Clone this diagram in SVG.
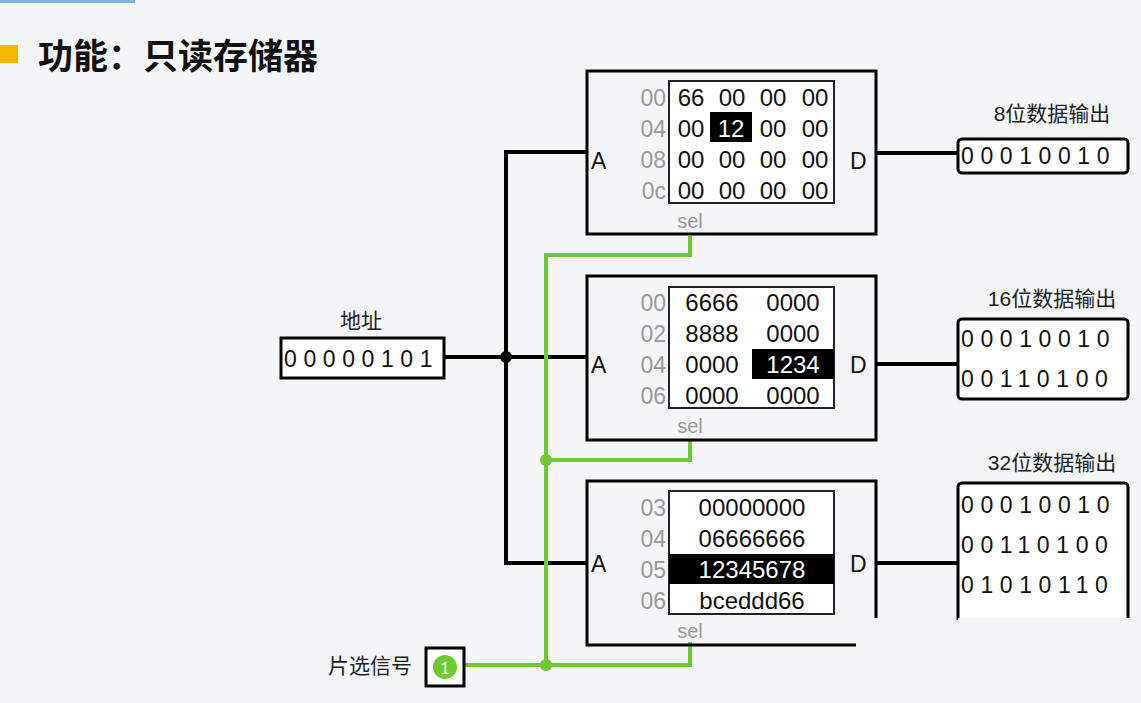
<svg xmlns="http://www.w3.org/2000/svg" width="1141" height="703" viewBox="0 0 1141 703">
<style>
text{font-family:"Liberation Sans","Noto Sans CJK SC",sans-serif}
.box{fill:none;stroke:#000;stroke-width:3}
.tbl{fill:#fff;stroke:#222;stroke-width:2}
.v{font-size:24px;fill:#111;text-anchor:middle}
.a{font-size:23px;fill:#999;text-anchor:end}
.p{font-size:23px;fill:#111}
.s{font-size:20px;fill:#999;text-anchor:middle}
.w{stroke:#000;stroke-width:4;fill:none}
.g{stroke:#6ccb2e;stroke-width:4;fill:none}
.lbl{font-size:21px;fill:#222;text-anchor:middle}
.bits{font-size:23px;fill:#111;letter-spacing:6.6px}
.hl{fill:#000}
</style>
<rect width="1141" height="703" fill="#f4f5f6"/>
<rect x="0" y="0" width="135" height="3" fill="#7fb2e5"/>
<rect x="0" y="45" width="18" height="18" fill="#f5b800"/>
<text x="38" y="69" font-size="35" font-weight="bold" fill="#111">功能：只读存储器</text>

<g id="connectors">
<polyline class="w" points="444,357 587,357"/>
<polyline class="w" points="587,152 506,152 506,563 587,563"/>
<circle cx="506" cy="357" r="6"/>
<line class="w" x1="876" y1="153" x2="958" y2="153"/>
<line class="w" x1="876" y1="364" x2="958" y2="364"/>
<line class="w" x1="876" y1="563" x2="958" y2="563"/>
<polyline class="g" points="464,665 690,665 690,642"/>
<polyline class="g" points="690,236 690,255 546,255 546,665"/>
<polyline class="g" points="546,460 690,460 690,440"/>
<circle cx="546" cy="460" r="6" fill="#6ccb2e"/>
<circle cx="546" cy="665" r="6" fill="#6ccb2e"/>
</g>

<g id="rom8">
<rect class="box" x="587" y="71" width="289" height="163"/>
<rect class="tbl" x="669" y="81" width="165" height="122"/>
<rect class="hl" x="710" y="112" width="42" height="30"/>
<text class="a" x="666" y="106">00</text><text class="a" x="666" y="137">04</text><text class="a" x="666" y="168">08</text><text class="a" x="666" y="199">0c</text>
<text class="v" x="691" y="106">66</text><text class="v" x="732" y="106">00</text><text class="v" x="773" y="106">00</text><text class="v" x="815" y="106">00</text>
<text class="v" x="691" y="137">00</text><text class="v" x="731" y="137" style="fill:#fff">12</text><text class="v" x="773" y="137">00</text><text class="v" x="815" y="137">00</text>
<text class="v" x="691" y="168">00</text><text class="v" x="732" y="168">00</text><text class="v" x="773" y="168">00</text><text class="v" x="815" y="168">00</text>
<text class="v" x="691" y="199">00</text><text class="v" x="732" y="199">00</text><text class="v" x="773" y="199">00</text><text class="v" x="815" y="199">00</text>
<text class="p" x="591" y="169">A</text><text class="p" x="850" y="169">D</text>
<text class="s" x="690" y="228">sel</text>
</g>

<g id="rom16">
<rect class="box" x="587" y="276" width="289" height="164"/>
<rect class="tbl" x="669" y="287" width="165" height="121"/>
<rect class="hl" x="752" y="349" width="82" height="30"/>
<text class="a" x="666" y="311">00</text><text class="a" x="666" y="342">02</text><text class="a" x="666" y="373">04</text><text class="a" x="666" y="404">06</text>
<text class="v" x="712" y="311">6666</text><text class="v" x="793" y="311">0000</text>
<text class="v" x="712" y="342">8888</text><text class="v" x="793" y="342">0000</text>
<text class="v" x="712" y="373">0000</text><text class="v" x="793" y="373" style="fill:#fff">1234</text>
<text class="v" x="712" y="404">0000</text><text class="v" x="793" y="404">0000</text>
<text class="p" x="591" y="373">A</text><text class="p" x="850" y="373">D</text>
<text class="s" x="690" y="433">sel</text>
</g>

<g id="rom32">
<polyline class="box" points="856,645 587,645 587,481 876,481 876,618"/>
<rect class="tbl" x="669" y="491" width="165" height="123"/>
<rect class="hl" x="669" y="554" width="165" height="30"/>
<text class="a" x="666" y="516">03</text><text class="a" x="666" y="547">04</text><text class="a" x="666" y="578">05</text><text class="a" x="666" y="609">06</text>
<text class="v" x="752" y="516">00000000</text>
<text class="v" x="752" y="547">06666666</text>
<text class="v" x="752" y="578" style="fill:#fff">12345678</text>
<text class="v" x="752" y="609">bceddd66</text>
<text class="p" x="591" y="572">A</text><text class="p" x="850" y="572">D</text>
<text class="s" x="690" y="638">sel</text>
</g>

<g id="addr">
<text class="lbl" x="361" y="328">地址</text>
<rect x="281" y="338" width="163" height="40" fill="#fff" stroke="#000" stroke-width="3"/>
<text class="bits" x="284" y="367">00000101</text>
</g>

<g id="out8">
<text class="lbl" x="1052" y="121">8位数据输出</text>
<rect x="958" y="139" width="170" height="34" rx="4" fill="#fff" stroke="#000" stroke-width="3"/>
<text class="bits" x="961" y="164">00010010</text>
</g>
<g id="out16">
<text class="lbl" x="1052" y="306">16位数据输出</text>
<rect x="958" y="319" width="170" height="80" rx="4" fill="#fff" stroke="#000" stroke-width="3"/>
<text class="bits" x="961" y="347">00010010</text>
<text class="bits" x="961" y="387">00110100</text>
</g>
<g id="out32">
<text class="lbl" x="1052" y="470">32位数据输出</text>
<path d="M958,620 V487 a4,4 0 0 1 4,-4 H1124 a4,4 0 0 1 4,4 V620" fill="#fff" stroke="#000" stroke-width="3"/>
<text class="bits" x="961" y="513">00010010</text>
<text class="bits" x="961" y="553">00110100</text>
<text class="bits" x="961" y="593">01010110</text>
<rect x="958" y="618" width="172" height="30" fill="#f4f5f6"/>
</g>

<g id="cs">
<text class="lbl" x="370" y="673">片选信号</text>
<rect x="426" y="648" width="38" height="38" fill="#fff" stroke="#000" stroke-width="3"/>
<circle cx="445" cy="667" r="12" fill="#6ccb2e"/>
<text x="445" y="674" font-size="17" fill="#fff" text-anchor="middle">1</text>
</g>
</svg>
